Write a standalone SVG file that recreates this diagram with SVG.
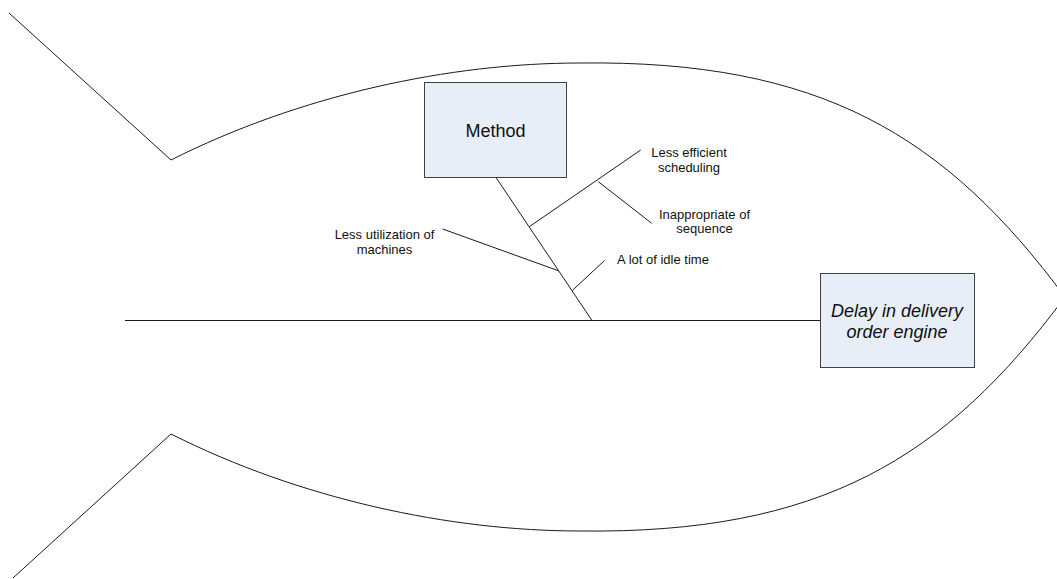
<svg xmlns="http://www.w3.org/2000/svg" width="1057" height="579" viewBox="0 0 1057 579">
<style>
.ln{fill:none;stroke:#1a1a1a;stroke-width:1}
.box{fill:#E8EEF8;stroke:#404040;stroke-width:1}
.big{font-family:"Liberation Sans",Arial,sans-serif;font-size:18px;fill:#111}
.sm{font-family:"Liberation Sans",Arial,sans-serif;font-size:13px;fill:#111}
</style>
<rect width="1057" height="579" fill="#fff"/>
<g id="fish">
<path class="ln" d="M9,13 L171,160 C300,95 450,63 580,63 C820,60 945,135 1065,297 C945,459 820,534 580,531 C450,531 300,499 171,434 L13,578"/>
</g>
<g id="connectors">
<line class="ln" x1="125" y1="320.5" x2="820" y2="320.5"/>
<line class="ln" x1="495.7" y1="177" x2="592" y2="320.5"/>
<line class="ln" x1="529.3" y1="226.7" x2="640.7" y2="150"/>
<line class="ln" x1="598.3" y1="181.7" x2="651.7" y2="223.3"/>
<line class="ln" x1="442.7" y1="229" x2="558.3" y2="270.7"/>
<line class="ln" x1="572.3" y1="290.5" x2="604.5" y2="260.5"/>
</g>
<g id="method">
<rect class="box" x="424.5" y="82.5" width="142" height="95"/>
<text class="big" x="495.5" y="136.5" text-anchor="middle">Method</text>
</g>
<g id="effect">
<rect class="box" x="820.5" y="273.5" width="154" height="94"/>
<text class="big" x="897" y="317" text-anchor="middle" font-style="italic">Delay in delivery</text>
<text class="big" x="897" y="338" text-anchor="middle" font-style="italic">order engine</text>
</g>
<g id="cause-scheduling">
<text class="sm" x="689" y="157" text-anchor="middle">Less efficient</text>
<text class="sm" x="689" y="172" text-anchor="middle">scheduling</text>
</g>
<g id="cause-sequence">
<text class="sm" x="704.5" y="219" text-anchor="middle">Inappropriate of</text>
<text class="sm" x="704.5" y="233" text-anchor="middle">sequence</text>
</g>
<g id="cause-utilization">
<text class="sm" x="384.5" y="239" text-anchor="middle">Less utilization of</text>
<text class="sm" x="384.5" y="254" text-anchor="middle">machines</text>
</g>
<g id="cause-idle">
<text class="sm" x="663" y="264" text-anchor="middle">A lot of idle time</text>
</g>
</svg>
